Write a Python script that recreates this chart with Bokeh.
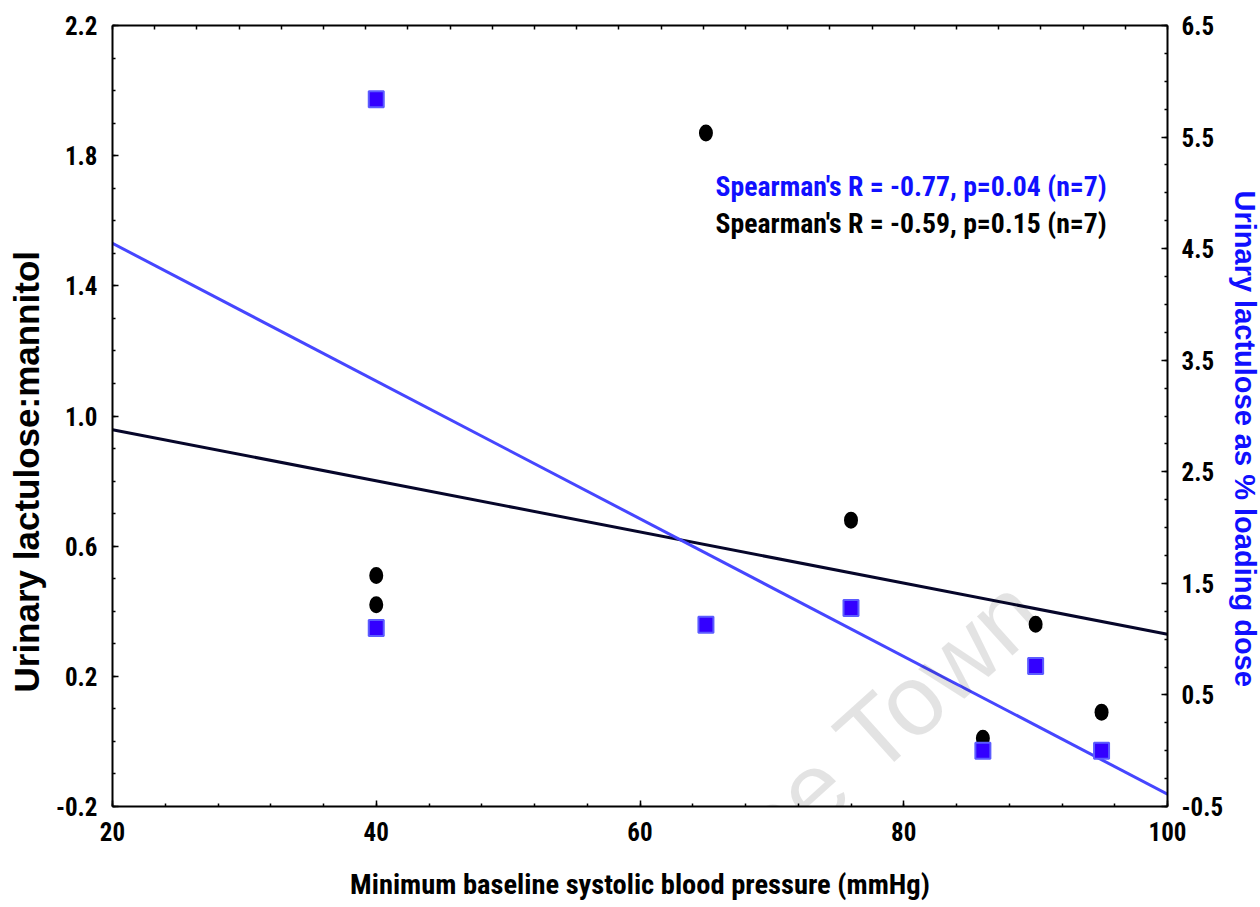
import numpy as np
from bokeh.plotting import figure
from bokeh.models import Range1d, LinearAxis, FixedTicker, Label, Title, PrintfTickFormatter
from bokeh.embed import file_html
from bokeh.resources import INLINE

# ---- data ----
sbp_lm = [40, 40, 65, 76, 86, 90, 95]
lm_ratio = [0.51, 0.42, 1.87, 0.68, 0.01, 0.36, 0.09]
sbp_lact = [40, 40, 65, 76, 86, 90, 95]
lact_pct = [5.84, 1.10, 1.13, 1.28, 0.00, 0.76, 0.00]

x_ticks = [20, 40, 60, 80, 100]
y_left_ticks = [-0.2, 0.2, 0.6, 1.0, 1.4, 1.8, 2.2]
y_right_ticks = [-0.5, 0.5, 1.5, 2.5, 3.5, 4.5, 5.5, 6.5]

stat_blue = "Spearman's R = -0.77, p=0.04 (n=7)"
stat_black = "Spearman's R = -0.59, p=0.15 (n=7)"
x_title = "Minimum baseline systolic blood pressure (mmHg)"
yl_title = "Urinary lactulose:mannitol"
yr_title = "Urinary lactulose as % loading dose"
watermark = "Cape Town"

FONT = "Roboto Condensed"
TITLE_FONT = "Liberation Sans"
BLUE_TXT = "#1010ff"

p = figure(width=1260, height=907, output_backend="svg", toolbar_location=None,
           x_range=Range1d(20, 100), y_range=Range1d(-0.2, 2.2),
           min_border_left=112, min_border_right=93, min_border_top=25, min_border_bottom=101)
p.extra_y_ranges = {"right": Range1d(-0.5, 6.5)}
p.outline_line_color = None
p.xgrid.visible = False
p.ygrid.visible = False
p.background_fill_color = "white"
p.border_fill_color = "white"


def style_axis(ax):
    ax.axis_line_width = 2
    ax.axis_line_color = "black"
    ax.major_tick_in = 6
    ax.major_tick_out = 0
    ax.minor_tick_in = 3
    ax.minor_tick_out = 0
    ax.major_tick_line_width = 1.5
    ax.minor_tick_line_width = 1.5
    ax.major_tick_line_color = "black"
    ax.minor_tick_line_color = "black"
    ax.major_label_text_font = FONT
    ax.major_label_text_font_style = "bold"
    ax.major_label_text_font_size = "25px"
    ax.major_label_text_color = "black"


# bottom axis
xa = p.xaxis[0]
style_axis(xa)
xa.ticker = FixedTicker(ticks=x_ticks, minor_ticks=list(np.arange(20, 100.1, 4)))
xa.formatter = PrintfTickFormatter(format="%d")
xa.major_label_standoff = 15
xa.axis_label = x_title
xa.axis_label_text_font = FONT
xa.axis_label_text_font_style = "bold"
xa.axis_label_text_font_size = "28.5px"
xa.axis_label_text_color = "black"
xa.axis_label_standoff = 24

# left axis
ya = p.yaxis[0]
style_axis(ya)
ya.ticker = FixedTicker(ticks=y_left_ticks, minor_ticks=list(np.round(np.arange(-0.2, 2.21, 0.1), 2)))
ya.formatter = PrintfTickFormatter(format="%.1f")
ya.major_label_standoff = 15

# right axis
ra = LinearAxis(y_range_name="right")
style_axis(ra)
ra.ticker = FixedTicker(ticks=y_right_ticks, minor_ticks=list(np.arange(-0.5, 6.51, 0.25)))
ra.formatter = PrintfTickFormatter(format="%.1f")
ra.major_label_standoff = 14
p.add_layout(ra, "right")

# top axis (ticks only)
ta = LinearAxis()
style_axis(ta)
ta.ticker = FixedTicker(ticks=list(np.linspace(20, 100, 26)), minor_ticks=[])
ta.major_tick_in = 4
ta.major_label_text_alpha = 0
ta.major_label_text_font_size = "1px"
ta.major_label_standoff = 0
p.add_layout(ta, "above")

# y axis titles (placed as side titles so they can be offset along the axis)
p.add_layout(Title(text=yl_title, align="left", offset=114, vertical_align="top", standoff=10,
                   text_font=TITLE_FONT, text_font_style="bold", text_font_size="35px",
                   text_color="black"), "left")
p.add_layout(Title(text=yr_title, align="left", offset=165, vertical_align="top", standoff=0,
                   text_font=TITLE_FONT, text_font_style="bold", text_font_size="29px",
                   text_color=BLUE_TXT), "right")

# regression lines (least squares fits of the data)
bx = np.array([20.0, 100.0])
c_lm = np.polyfit(sbp_lm, lm_ratio, 1)
c_la = np.polyfit(sbp_lact, lact_pct, 1)
p.line(bx, np.polyval(c_lm, bx), line_color="#06062a", line_width=3)
p.line(bx, np.polyval(c_la, bx), line_color="#4646ff", line_width=3, y_range_name="right")

# points
p.ellipse(x=sbp_lm, y=lm_ratio, width=14, height=17, width_units="screen", height_units="screen",
          fill_color="black", line_color=None)
p.rect(x=sbp_lact, y=lact_pct, width=15, height=16, width_units="screen", height_units="screen",
       fill_color="#3300ff", line_color="#5c5cff", line_width=2, y_range_name="right")

# watermark (black at low alpha: light grey on white, invisible over dark marks)
p.add_layout(Label(x=61.11, y=-0.581, text=watermark, angle=0.733, text_font="Liberation Sans",
                   text_font_size="100px", text_color="black", text_alpha=0.11,
                   text_baseline="alphabetic"))

# statistics text
p.add_layout(Label(x=65.73, y=1.706, text=stat_blue, text_font=FONT, text_font_style="bold",
                   text_font_size="27.7px", text_color=BLUE_TXT, text_baseline="alphabetic"))
p.add_layout(Label(x=65.73, y=1.592, text=stat_black, text_font=FONT, text_font_style="bold",
                   text_font_size="27.7px", text_color="black", text_baseline="alphabetic"))

open("out.html", "w").write(file_html(p, INLINE))
